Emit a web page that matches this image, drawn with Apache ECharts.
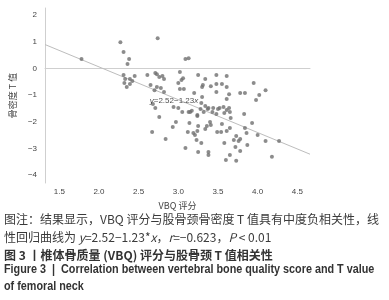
<!DOCTYPE html>
<html>
<head>
<meta charset="utf-8">
<script src="https://cdn.jsdelivr.net/npm/echarts@6/dist/echarts.min.js"></script>
<style>
  html, body { margin: 0; padding: 0; background: #fff; }
  #chart { width: 389px; height: 300px; }
</style>
</head>
<body>
<div id="chart"></div>
<script>
// 散点：VBQ 评分 vs 股骨颈骨密度 T 值
const vbq = [
  1.78, 2.27, 2.31, 2.38, 2.36, 2.31, 2.33, 2.39, 2.32, 2.35, 2.39, 2.42, 2.45, 2.74, 2.61,
  2.71, 2.73, 2.76, 2.80, 2.82, 2.65, 2.70, 2.73, 2.78, 2.82, 3.02, 3.04, 3.00, 3.02, 3.06,
  3.09, 3.13, 3.25, 3.34, 3.31, 3.41, 3.48, 3.48, 3.55, 3.61, 3.61, 3.48, 3.64, 3.78, 3.84,
  3.95, 4.10, 4.02, 3.98, 3.61, 3.20, 3.30, 3.29, 3.34, 3.37, 3.52, 3.57, 3.64, 3.30, 3.13,
  3.24, 3.28, 3.32, 3.43, 3.48, 3.58, 3.61, 3.66, 3.83, 3.93, 3.55, 3.54, 3.49, 3.61, 3.40,
  3.41, 3.36, 3.34, 3.25, 3.24, 3.19, 3.14, 3.12, 3.09, 3.25, 3.29, 3.23, 3.21, 3.38, 3.38,
  3.58, 3.65, 3.60, 3.73, 3.72, 3.76, 3.78, 3.84, 3.86, 3.87, 4.00, 4.10, 4.27, 4.18, 2.67,
  2.68, 2.71, 2.76, 2.84, 2.93, 2.97, 2.94, 3.05, 3.24, 3.15, 3.00, 3.17, 3.38, 3.44, 3.50,
  3.65, 3.73, 3.78, 3.70, 3.65, 3.07
];
const tScore = [
  0.36, 0.99, 0.62, 0.36, 0.17, -0.24, -0.39, -0.39, -0.54, -0.69, -0.58, -0.47, -0.28, 1.14, -0.24,
  -0.17, -0.21, -0.32, -0.28, -0.39, -0.62, -0.81, -0.69, -0.73, -0.88, -0.13, -0.43, -0.54, -0.77, -0.36,
  0.36, 0.39, -0.24, -0.39, -0.62, -0.66, -0.24, -0.58, -0.58, -0.28, -0.69, -0.88, -0.96, -0.92, -0.92,
  -0.54, -0.81, -0.99, -1.18, -1.14, -0.92, -1.07, -1.29, -1.40, -1.52, -1.48, -1.44, -1.48, -0.69, -1.63,
  -1.74, -1.52, -1.63, -1.63, -1.70, -1.67, -1.55, -1.85, -1.70, -2.04, -2.08, -2.38, -2.38, -2.34, -2.00,
  -2.12, -2.15, -2.27, -2.15, -2.34, -2.42, -2.04, -2.38, -2.98, -3.13, -2.79, -2.68, -2.49, -3.13, -3.24,
  -2.79, -3.24, -3.43, -3.46, -2.94, -2.72, -3.09, -2.23, -2.42, -2.87, -2.49, -2.72, -2.72, -3.31, -2.38,
  -1.33, -1.48, -1.82, -2.64, -2.19, -2.00, -1.44, -1.63, -1.78, -1.63, -1.48, -1.58, -1.48, -1.48, -1.52,
  -1.63, -2.53, -2.64, -2.68, -2.23, -0.77
];

// 回归线 y = 2.52 - 1.23x，两端点
const fitX = [1.32, 4.66];
const fitY = [0.90, -3.21];

// 刻度
const xTicks = [1.5, 2.0, 2.5, 3.0, 3.5, 4.0, 4.5];
const yTicks = [-4, -3, -2, -1, 0, 1, 2];

const points = vbq.map((v, i) => [v, tScore[i]]);
const fitLine = fitX.map((v, i) => [v, fitY[i]]);

const chart = echarts.init(document.getElementById('chart'));

const capFont = '"Noto Sans CJK SC", sans-serif';
const enFont = '"Liberation Sans", Arial, sans-serif';

const option = {
  animation: false,
  backgroundColor: '#fff',
  grid: { left: 33, right: 79, top: 8, bottom: 117 },
  xAxis: {
    type: 'value',
    min: 1.32,
    max: 4.66,
    name: 'VBQ 评分',
    nameLocation: 'middle',
    nameGap: 10,
    nameTextStyle: { fontSize: 9, color: '#444', fontFamily: capFont, verticalAlign: 'top' },
    axisLine: { show: true, lineStyle: { color: '#cfcfcf', width: 1 } },
    axisTick: { show: false },
    splitLine: { show: false },
    axisLabel: {
      customValues: xTicks,
      formatter: v => v.toFixed(1),
      fontSize: 8,
      color: '#444',
      margin: 5,
      fontFamily: enFont
    }
  },
  yAxis: {
    type: 'value',
    min: -4.29,
    max: 2.27,
    name: '骨密度 T 值',
    nameLocation: 'middle',
    nameGap: 18,
    nameRotate: 90,
    nameTextStyle: { fontSize: 9, color: '#444', fontFamily: capFont },
    axisLine: { show: true, lineStyle: { color: '#cfcfcf', width: 1 } },
    axisTick: { show: false },
    splitLine: { show: false },
    axisLabel: {
      customValues: yTicks,
      formatter: v => (v < 0 ? '\u2212' + Math.abs(v) : String(v)),
      fontSize: 8,
      color: '#444',
      margin: 8,
      fontFamily: enFont
    }
  },
  series: [
    {
      type: 'line',
      data: fitLine,
      symbol: 'none',
      lineStyle: { color: '#bdbdbd', width: 1 },
      silent: true,
      z: 1
    },
    {
      type: 'scatter',
      data: points,
      symbolSize: 4,
      itemStyle: { color: '#6f6f6f' },
      z: 2
    },
    {
      type: 'scatter',
      data: [[2.64, -1.19]],
      symbolSize: 0,
      z: 3,
      label: {
        show: true,
        position: 'right',
        distance: 0,
        formatter: '{i|y}=2.52\u22121.23{i|x}',
        fontSize: 8,
        color: '#222',
        fontFamily: enFont,
        rich: { i: { fontStyle: 'italic', fontSize: 8, color: '#222', fontFamily: enFont } }
      }
    }
  ],
  graphic: [
    {
      type: 'text', x: 4, y: 219,
      style: {
        text: '图注：结果显示，VBQ 评分与股骨颈骨密度 T 值具有中度负相关性，线',
        font: '12px ' + capFont, fill: '#3a3a3a', verticalAlign: 'middle'
      }
    },
    {
      type: 'text', x: 4, y: 237,
      style: {
        text: '性回归曲线为 {i|y}=2.52\u22121.23*{i|x}，{i|r}=\u22120.623，{i|P} < 0.01',
        font: '12px ' + capFont, fill: '#3a3a3a', verticalAlign: 'middle',
        rich: { i: { fontStyle: 'italic', fontSize: 12, fontFamily: capFont, fill: '#3a3a3a' } }
      }
    },
    {
      type: 'text', x: 4, y: 255,
      style: {
        text: '图 3 丨椎体骨质量 (VBQ) 评分与股骨颈 T 值相关性',
        font: 'bold 12px ' + capFont, fill: '#333', verticalAlign: 'middle'
      }
    },
    {
      type: 'text', x: 4, y: 270, scaleX: 0.9,
      style: {
        text: 'Figure 3  |  Correlation between vertebral bone quality score and T value',
        font: 'bold 12px ' + enFont, fill: '#333', verticalAlign: 'middle'
      }
    },
    {
      type: 'text', x: 4, y: 287, scaleX: 0.9,
      style: {
        text: 'of femoral neck',
        font: 'bold 12px ' + enFont, fill: '#333', verticalAlign: 'middle'
      }
    }
  ]
};

chart.setOption(option);
</script>
</body>
</html>
